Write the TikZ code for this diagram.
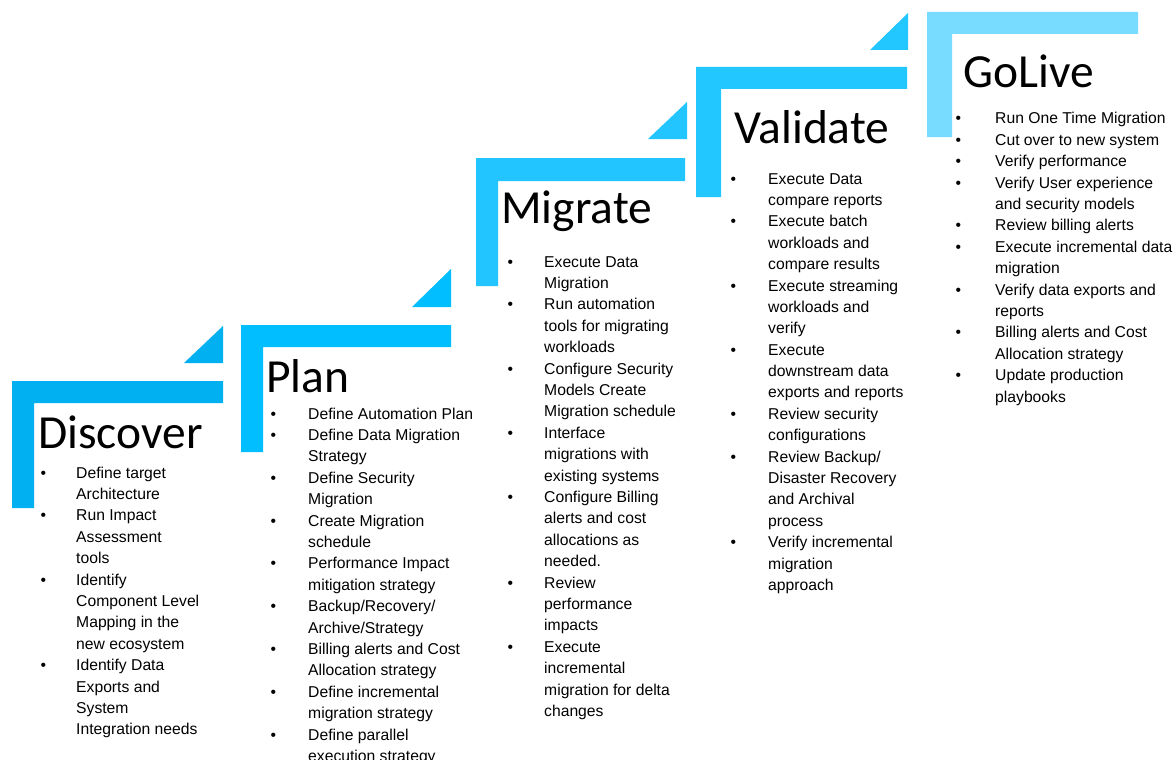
\documentclass[tikz,border=0pt]{standalone}
\usepackage{fontspec}
\setmainfont{Liberation Sans}
\newfontfamily\titlefont{Carlito}
\usepackage{array}
\definecolor{discoverblue}{HTML}{00B0F0}
\definecolor{planblue}{HTML}{00BEFF}
\definecolor{migrateblue}{HTML}{22C5FF}
\definecolor{validateblue}{HTML}{22C7FF}
\definecolor{goliveblue}{HTML}{77DCFF}
% bullet list: first column holds the bullet, second the wrapped lines
\newenvironment{steplist}[1]{\begin{tabular}[t]{@{}p{#1pt}@{}l@{}}}{\end{tabular}}
\begin{document}
\begin{tikzpicture}[x=1pt,y=-1pt,
  title/.style={anchor=base west,inner sep=0pt,font=\titlefont\fontsize{47.5}{52}\selectfont},
  items/.style={anchor=base west,inner sep=0pt,font=\fontsize{15.7}{21.4}\selectfont}]
\useasboundingbox (0,0) rectangle (1176,760);
\clip (0,0) rectangle (1176,760);
\fill[white] (0,0) rectangle (1176,760);

% L-shaped brackets and the small triangles leading up to each step
\fill[discoverblue] (12,381) -- (223,381) -- (223,403) -- (34,403) -- (34,508) -- (12,508) -- cycle;
\fill[discoverblue] (184,363) -- (223,363) -- (223,326) -- cycle;

\fill[planblue] (241,325) -- (451,325) -- (451,347) -- (263,347) -- (263,452) -- (241,452) -- cycle;
\fill[planblue] (412,307) -- (451,307) -- (451,269) -- cycle;

\fill[migrateblue] (476,158) -- (685,158) -- (685,181) -- (498,181) -- (498,286) -- (476,286) -- cycle;
\fill[migrateblue] (648,139) -- (687,139) -- (687,102) -- cycle;

\fill[validateblue] (696,67) -- (907,67) -- (907,89) -- (721,89) -- (721,197) -- (696,197) -- cycle;
\fill[validateblue] (870,50) -- (908,50) -- (908,13) -- cycle;

\fill[goliveblue] (927,12) -- (1138,12) -- (1138,34) -- (952,34) -- (952,137) -- (927,137) -- cycle;

% step titles
\node[title] (tdiscover) at (38,448) {Discover};
\node[title] (tplan) at (266,392) {Plan};
\node[title] (tmigrate) at (501,223) {Migrate};
\node[title] (tvalidate) at (734,143) {Validate};
\node[title] (tgolive) at (963,88) {GoLive};

% task lists
\node[items] (ldiscover) at (40.3,478) {\begin{steplist}{35.7}
• & Define target\\
  & Architecture\\
• & Run Impact\\
  & Assessment\\
  & tools\\
• & Identify\\
  & Component Level\\
  & Mapping in the\\
  & new ecosystem\\
• & Identify Data\\
  & Exports and\\
  & System\\
  & Integration needs
\end{steplist}};

\node[items] (lplan) at (270.3,419) {\begin{steplist}{37.7}
• & Define Automation Plan\\
• & Define Data Migration\\
  & Strategy\\
• & Define Security\\
  & Migration\\
• & Create Migration\\
  & schedule\\
• & Performance Impact\\
  & mitigation strategy\\
• & Backup/Recovery/\\
  & Archive/Strategy\\
• & Billing alerts and Cost\\
  & Allocation strategy\\
• & Define incremental\\
  & migration strategy\\
• & Define parallel\\
  & execution strategy
\end{steplist}};

\node[items] (lmigrate) at (507.3,267) {\begin{steplist}{36.7}
• & Execute Data\\
  & Migration\\
• & Run automation\\
  & tools for migrating\\
  & workloads\\
• & Configure Security\\
  & Models Create\\
  & Migration schedule\\
• & Interface\\
  & migrations with\\
  & existing systems\\
• & Configure Billing\\
  & alerts and cost\\
  & allocations as\\
  & needed.\\
• & Review\\
  & performance\\
  & impacts\\
• & Execute\\
  & incremental\\
  & migration for delta\\
  & changes
\end{steplist}};

\node[items] (lvalidate) at (730.3,184) {\begin{steplist}{37.7}
• & Execute Data\\
  & compare reports\\
• & Execute batch\\
  & workloads and\\
  & compare results\\
• & Execute streaming\\
  & workloads and\\
  & verify\\
• & Execute\\
  & downstream data\\
  & exports and reports\\
• & Review security\\
  & configurations\\
• & Review Backup/\\
  & Disaster Recovery\\
  & and Archival\\
  & process\\
• & Verify incremental\\
  & migration\\
  & approach
\end{steplist}};

\node[items] (lgolive) at (955.3,124) {\begin{steplist}{39.7}
• & Run One Time Migration\\
• & Cut over to new system\\
• & Verify performance\\
• & Verify User experience\\
  & and security models\\
• & Review billing alerts\\
• & Execute incremental data\\
  & migration\\
• & Verify data exports and\\
  & reports\\
• & Billing alerts and Cost\\
  & Allocation strategy\\
• & Update production\\
  & playbooks
\end{steplist}};
\end{tikzpicture}
\end{document}
